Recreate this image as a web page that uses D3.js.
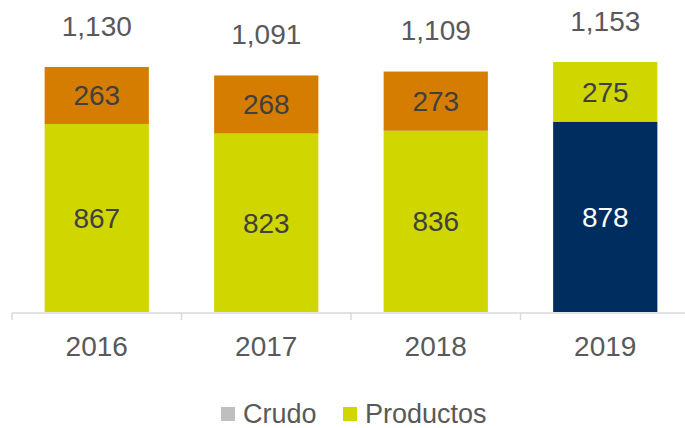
<!DOCTYPE html>
<html>
<head>
<meta charset="utf-8">
<script src="https://cdn.jsdelivr.net/npm/d3@7"></script>
<style>
  body { margin: 0; background: #fff; }
  text { font-family: "Liberation Sans", Arial, sans-serif; }
</style>
</head>
<body>
<div id="chart"></div>
<script>
// datos
const years = ['2016', '2017', '2018', '2019'];
const productos = [867, 823, 836, 878];
const crudo = [263, 268, 273, 275];
const totals = [1130, 1091, 1109, 1153];
const legendLabels = ['Crudo', 'Productos'];

const width = 685;
const height = 428;
const margin = {left: 12, right: -5, top: 0, bottom: 116};
const baseY = 312;
const fontSize = '28px';

const colorLime = '#cfd600';
const colorOrange = '#d57d00';
const colorNavy = '#002d5f';
const colorGray = '#bfbfbf';

const svg = d3.select('#chart').append('svg')
    .attr('width', width)
    .attr('height', height);

const x = d3.scaleBand()
    .domain(years)
    .range([margin.left, width - margin.right])
    .paddingInner(0.385)
    .paddingOuter(0.1925);

const y = d3.scaleLinear()
    .domain([0, 1153])
    .range([baseY, 62]);

// barras: el 2019 va con otros colores
const rows = years.map((yr, i) => ({
    year: yr,
    bottom: productos[i],
    top: crudo[i],
    total: totals[i],
    last: i === years.length - 1
}));

const g = svg.append('g');

g.selectAll('rect.bottom')
    .data(rows)
    .enter()
    .append('rect')
    .attr('class', 'bottom')
    .attr('x', d => x(d.year))
    .attr('width', x.bandwidth())
    .attr('y', d => y(d.bottom))
    .attr('height', d => y(0) - y(d.bottom))
    .attr('fill', d => d.last ? colorNavy : colorLime);

g.selectAll('rect.top')
    .data(rows)
    .enter()
    .append('rect')
    .attr('class', 'top')
    .attr('x', d => x(d.year))
    .attr('width', x.bandwidth())
    .attr('y', d => y(d.bottom + d.top))
    .attr('height', d => y(d.bottom) - y(d.bottom + d.top))
    .attr('fill', d => d.last ? colorLime : colorOrange);

const fmt = d3.format(',');

// etiquetas dentro de las barras
g.selectAll('text.lb')
    .data(rows)
    .enter()
    .append('text')
    .attr('class', 'lb')
    .attr('x', d => x(d.year) + x.bandwidth() / 2)
    .attr('y', d => (y(0) + y(d.bottom)) / 2)
    .attr('dy', '0.35em')
    .attr('text-anchor', 'middle')
    .attr('font-size', fontSize)
    .attr('fill', d => d.last ? '#ffffff' : '#404040')
    .text(d => fmt(d.bottom));

g.selectAll('text.lt')
    .data(rows)
    .enter()
    .append('text')
    .attr('class', 'lt')
    .attr('x', d => x(d.year) + x.bandwidth() / 2)
    .attr('y', d => (y(d.bottom) + y(d.bottom + d.top)) / 2)
    .attr('dy', '0.35em')
    .attr('text-anchor', 'middle')
    .attr('font-size', fontSize)
    .attr('fill', '#404040')
    .text(d => fmt(d.top));

// totales
g.selectAll('text.tot')
    .data(rows)
    .enter()
    .append('text')
    .attr('class', 'tot')
    .attr('x', d => x(d.year) + x.bandwidth() / 2)
    .attr('y', d => y(d.total) - 41)
    .attr('dy', '0.35em')
    .attr('text-anchor', 'middle')
    .attr('font-size', fontSize)
    .attr('fill', '#595959')
    .text(d => fmt(d.total));

// eje x
const axis = svg.append('g')
    .attr('transform', `translate(0,${baseY + 1})`);

axis.append('line')
    .attr('x1', margin.left)
    .attr('x2', width)
    .attr('stroke', '#d9d9d9')
    .attr('stroke-width', 1.5);

const step = x.step();
axis.selectAll('line.tick')
    .data(d3.range(years.length + 1))
    .enter()
    .append('line')
    .attr('class', 'tick')
    .attr('x1', i => margin.left + i * step)
    .attr('x2', i => margin.left + i * step)
    .attr('y1', 0)
    .attr('y2', 7)
    .attr('stroke', '#d9d9d9')
    .attr('stroke-width', 1.5);

axis.selectAll('text')
    .data(years)
    .enter()
    .append('text')
    .attr('x', d => x(d) + x.bandwidth() / 2)
    .attr('y', 33)
    .attr('dy', '0.35em')
    .attr('text-anchor', 'middle')
    .attr('font-size', fontSize)
    .attr('fill', '#595959')
    .text(d => d);

// leyenda
const legend = svg.append('g').attr('transform', 'translate(0,414)');
const legendItems = [
    {name: legendLabels[0], color: colorGray, x: 221},
    {name: legendLabels[1], color: colorLime, x: 343}
];
legendItems.forEach(item => {
    legend.append('rect')
        .attr('x', item.x)
        .attr('y', -7)
        .attr('width', 14)
        .attr('height', 14)
        .attr('fill', item.color);
    legend.append('text')
        .attr('x', item.x + 22)
        .attr('y', 0)
        .attr('dy', '0.35em')
        .attr('font-size', '27px')
        .attr('fill', '#595959')
        .text(item.name);
});
</script>
</body>
</html>
